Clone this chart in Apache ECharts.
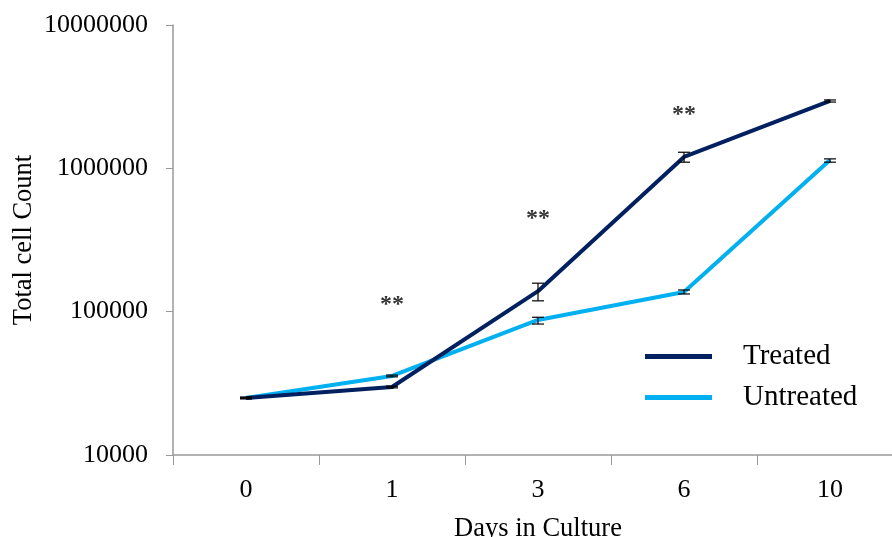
<!DOCTYPE html>
<html>
<head>
<meta charset="utf-8">
<script src="https://cdn.jsdelivr.net/npm/echarts@6/dist/echarts.min.js"></script>
<style>html,body{margin:0;padding:0;background:#fff;}#c{width:892px;height:537px;}</style>
</head>
<body>
<div id="c"></div>
<script>
var categories = ['0', '1', '3', '6', '10'];
var treated = [25000, 29800, 139000, 1200000, 2950000];
var untreated = [25000, 35600, 87500, 137000, 1145000];
var treatedErrLow = [24700, 29400, 119000, 1104000, 2900000];
var treatedErrHigh = [25300, 30200, 158000, 1295000, 3000000];
var untreatedErrLow = [24700, 35100, 82000, 132900, 1104000];
var untreatedErrHigh = [25300, 36100, 91400, 141700, 1164000];
var sigCategories = ['1', '3', '6'];
var sigValues = [111000, 448000, 2350000];
var sigLabel = '**';

var FONT = '"Liberation Serif", "Times New Roman", serif';

function errData(lo, hi) {
  return categories.map(function (c, i) { return [i, lo[i], hi[i]]; });
}
function errRender(params, api) {
  var x = api.value(0);
  var lo = api.coord([x, api.value(1)]);
  var hi = api.coord([x, api.value(2)]);
  var w = 6;
  var st = { stroke: '#000', lineWidth: 1.2 };
  return {
    type: 'group',
    children: [
      { type: 'line', shape: { x1: lo[0], y1: lo[1], x2: hi[0], y2: hi[1] }, style: st },
      { type: 'line', shape: { x1: lo[0] - w, y1: lo[1], x2: lo[0] + w, y2: lo[1] }, style: st },
      { type: 'line', shape: { x1: hi[0] - w, y1: hi[1], x2: hi[0] + w, y2: hi[1] }, style: st }
    ]
  };
}

var chart = echarts.init(document.getElementById('c'));
chart.setOption({
  animation: false,
  backgroundColor: '#fff',
  grid: { left: 173, right: -11, top: 25, bottom: 82, containLabel: false, outerBoundsMode: 'none' },
  legend: {
    orient: 'vertical',
    left: 640,
    top: 337,
    itemWidth: 67,
    itemHeight: 5,
    itemGap: 12,
    icon: 'rect',
    data: ['Treated', 'Untreated'],
    textStyle: { fontFamily: FONT, fontSize: 29, color: '#000', padding: [0, 0, 0, 26] }
  },
  xAxis: {
    type: 'category',
    data: categories,
    boundaryGap: true,
    name: 'Days in Culture',
    nameLocation: 'middle',
    nameGap: 61,
    nameMoveOverlap: false,
    nameTextStyle: { fontFamily: FONT, fontSize: 26.5, color: '#000' },
    axisLine: { lineStyle: { color: '#999', width: 1.5 } },
    axisTick: { show: true, length: 10, lineStyle: { color: '#999' } },
    axisLabel: { fontFamily: FONT, fontSize: 26, color: '#000', margin: 22 },
    splitLine: { show: false }
  },
  yAxis: {
    type: 'log',
    logBase: 10,
    min: 10000,
    max: 10000000,
    name: 'Total cell Count',
    nameLocation: 'middle',
    nameGap: 135,
    nameMoveOverlap: false,
    nameTextStyle: { fontFamily: FONT, fontSize: 26.5, color: '#000' },
    axisLine: { show: true, lineStyle: { color: '#999', width: 1.5 } },
    axisTick: { show: true, length: 7, lineStyle: { color: '#999' } },
    axisLabel: {
      fontFamily: FONT, fontSize: 26, color: '#000', margin: 25,
      formatter: function (v) { return String(Math.round(v)); }
    },
    splitLine: { show: false }
  },
  series: [
    {
      name: 'Treated', type: 'line', data: treated, symbol: 'none', z: 3,
      lineStyle: { color: '#002060', width: 4 }, itemStyle: { color: '#002060' }
    },
    {
      name: 'Untreated', type: 'line', data: untreated, symbol: 'none', z: 2,
      lineStyle: { color: '#00B0F0', width: 4 }, itemStyle: { color: '#00B0F0' }
    },
    { type: 'custom', renderItem: errRender, data: errData(treatedErrLow, treatedErrHigh), z: 4, silent: true },
    { type: 'custom', renderItem: errRender, data: errData(untreatedErrLow, untreatedErrHigh), z: 4, silent: true },
    {
      type: 'scatter', symbolSize: 1, itemStyle: { color: 'rgba(0,0,0,0)' }, silent: true,
      data: sigCategories.map(function (c, i) { return [c, sigValues[i]]; }),
      label: { show: true, position: 'inside', formatter: sigLabel, fontFamily: FONT, fontSize: 24, fontWeight: 'bold', color: '#000' }
    }
  ]
});
</script>
</body>
</html>
